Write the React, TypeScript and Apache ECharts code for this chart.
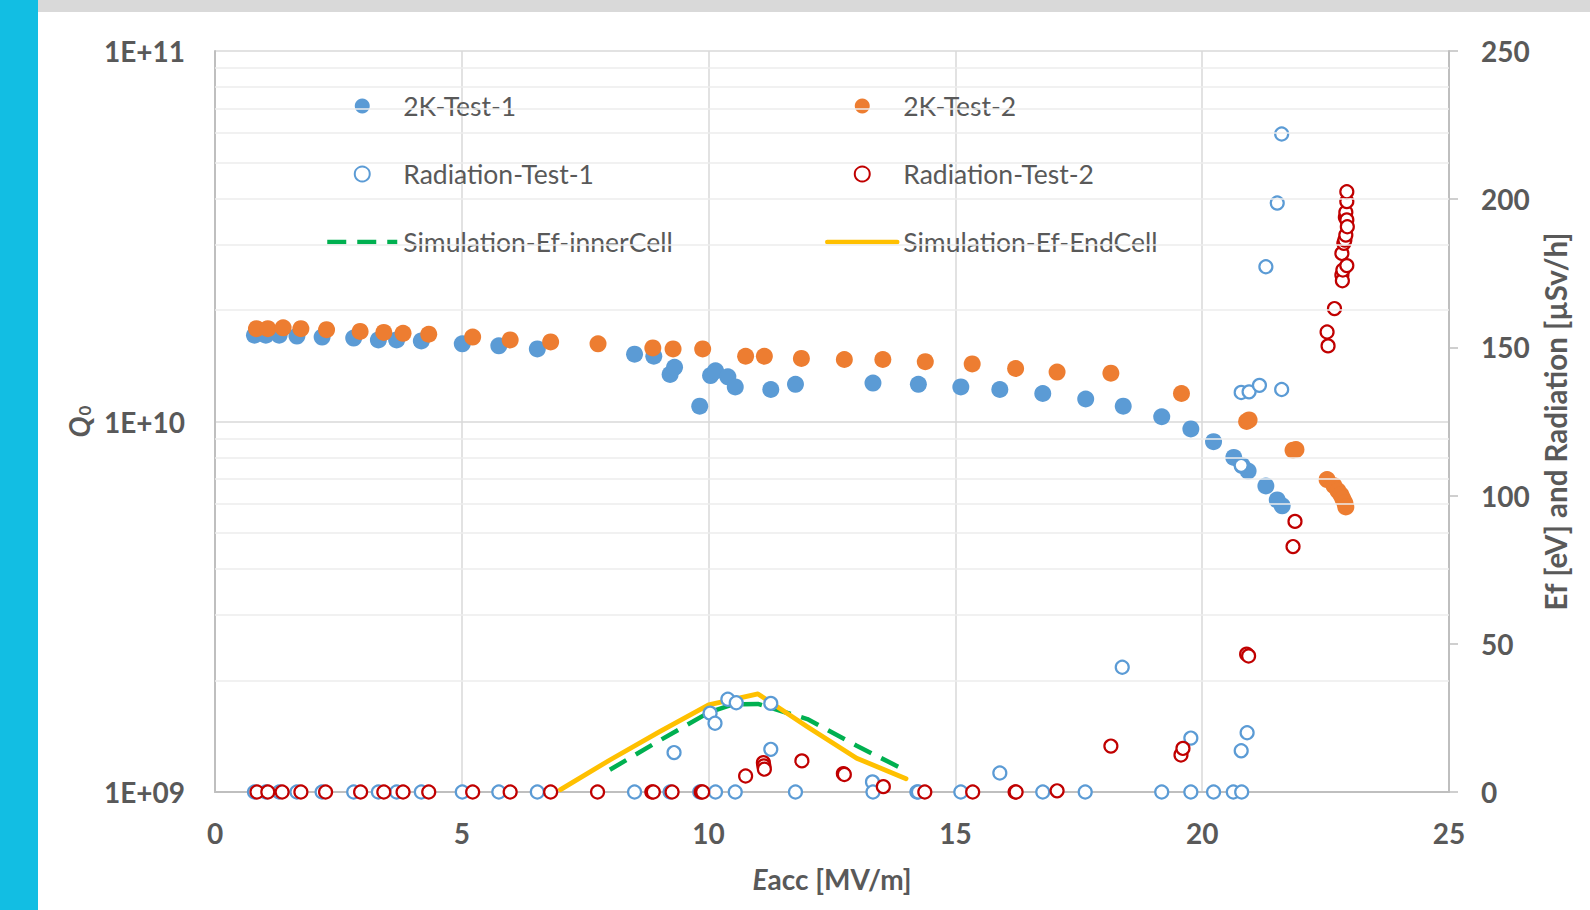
import React, { useEffect, useRef } from "react";
import * as echarts from "echarts";

// ---- 2K-Test-1 (Q0, left log axis)
const eacc1 = [0.8, 1.03, 1.3, 1.66, 2.17, 2.81, 3.31, 3.68, 4.18, 5.01, 5.75, 6.53, 8.5, 8.89, 9.22, 9.31, 9.82, 10.04, 10.14, 10.39, 10.54, 11.26, 11.76, 13.33, 14.25, 15.11, 15.9, 16.77, 17.64, 18.4, 19.18, 19.77, 20.23, 20.64, 20.81, 20.93, 21.29, 21.52, 21.62];
const q1 = [1.71e10, 1.71e10, 1.71e10, 1.7e10, 1.69e10, 1.68e10, 1.66e10, 1.66e10, 1.65e10, 1.62e10, 1.6e10, 1.57e10, 1.52e10, 1.5e10, 1.34e10, 1.4e10, 1.1e10, 1.33e10, 1.37e10, 1.32e10, 1.24e10, 1.22e10, 1.26e10, 1.27e10, 1.26e10, 1.24e10, 1.22e10, 1.19e10, 1.15e10, 1.1e10, 1.03e10, 9.55e9, 8.82e9, 8.0e9, 7.6e9, 7.35e9, 6.7e9, 6.14e9, 5.92e9];

// ---- 2K-Test-2 (Q0, left log axis)
const eacc2 = [0.84, 1.07, 1.38, 1.74, 2.26, 2.94, 3.42, 3.81, 4.33, 5.22, 5.98, 6.8, 7.76, 8.87, 9.28, 9.88, 10.75, 11.13, 11.88, 12.75, 13.53, 14.39, 15.34, 16.22, 17.06, 18.15, 19.58, 20.9, 20.95, 21.84, 21.9, 22.53, 22.67, 22.75, 22.81, 22.85, 22.89, 22.91];
const q2 = [1.78e10, 1.78e10, 1.79e10, 1.78e10, 1.77e10, 1.75e10, 1.74e10, 1.73e10, 1.72e10, 1.69e10, 1.66e10, 1.64e10, 1.62e10, 1.58e10, 1.57e10, 1.57e10, 1.5e10, 1.5e10, 1.48e10, 1.47e10, 1.47e10, 1.45e10, 1.43e10, 1.39e10, 1.36e10, 1.35e10, 1.19e10, 1.0e10, 1.01e10, 8.37e9, 8.4e9, 6.97e9, 6.71e9, 6.5e9, 6.34e9, 6.18e9, 6.03e9, 5.88e9];

// ---- Radiation-Test-1 (right axis)
const radX1 = [0.8, 1.03, 1.3, 1.66, 2.17, 2.81, 3.31, 3.68, 4.18, 5.01, 5.75, 6.53, 8.5, 9.22, 9.3, 9.82, 10.03, 10.13, 10.14, 10.39, 10.54, 10.56, 11.26, 11.26, 11.76, 13.32, 13.33, 14.22, 14.25, 15.11, 15.9, 16.77, 17.63, 18.38, 19.18, 19.77, 19.77, 20.23, 20.63, 20.79, 20.8, 20.79, 20.79, 20.91, 20.95, 21.16, 21.29, 21.52, 21.61, 21.61];
const radV1 = [0, 0, 0, 0, 0, 0, 0, 0, 0, 0, 0, 0, 0, 0, 13.3, 0, 26.6, 23.2, 0, 31.3, 0, 30.1, 29.9, 14.4, 0, 3.4, 0, 0, 0, 0, 6.4, 0, 0, 42.1, 0, 18.2, 0, 0, 0, 13.9, 0, 110.2, 134.8, 20.0, 135.0, 137.2, 177.2, 198.7, 135.8, 222.0];

// ---- Radiation-Test-2 (right axis)
const radX2 = [0.85, 1.07, 1.36, 1.74, 2.24, 2.95, 3.42, 3.81, 4.33, 5.22, 5.98, 6.8, 7.75, 8.85, 8.88, 9.26, 9.85, 9.88, 10.75, 11.11, 11.12, 11.13, 11.89, 12.73, 12.75, 13.54, 14.38, 15.35, 16.21, 16.23, 17.06, 18.15, 19.57, 19.61, 20.9, 20.94, 21.84, 21.88, 22.53, 22.55, 22.68, 22.83, 22.83, 22.84, 22.85, 22.87, 22.89, 22.9, 22.91, 22.91, 22.93, 22.93, 22.93, 22.93, 22.94];
const radV2 = [0, 0, 0, 0, 0, 0, 0, 0, 0, 0, 0, 0, 0, 0, 0, 0, 0, 0, 5.4, 9.9, 8.8, 7.7, 10.5, 6.2, 5.9, 1.8, 0, 0, 0, 0, 0.4, 15.5, 12.5, 14.7, 46.5, 45.9, 82.8, 91.3, 155.2, 150.5, 163.1, 174.4, 181.7, 172.5, 176.1, 185.1, 186.2, 193.9, 187.9, 195.6, 177.6, 193.0, 199.2, 202.5, 190.7];

// ---- Simulations (right axis)
const simInnerX = [8, 9, 10, 10.5, 11, 12, 13, 14];
const simInnerEf = [7.5, 17.3, 26.8, 29.6, 29.7, 24.6, 15.6, 7.2];
const simEndX = [7, 8, 9, 10, 11, 12, 13, 14];
const simEndEf = [0.8, 10.8, 20.3, 29.4, 33.1, 22.0, 11.4, 4.5];

// ---- Axis / minor gridline values
const xTicks = [0, 5, 10, 15, 20, 25];
const minorQ = [2e9, 3e9, 4e9, 5e9, 6e9, 7e9, 8e9, 9e9, 2e10, 3e10, 4e10, 5e10, 6e10, 7e10, 8e10, 9e10];

const legendLeft = ["2K-Test-1", "Radiation-Test-1", "Simulation-Ef-innerCell"];
const legendRight = ["2K-Test-2", "Radiation-Test-2", "Simulation-Ef-EndCell"];
const lineSeriesNames = ["Simulation-Ef-innerCell", "Simulation-Ef-EndCell"];

const FONT = "Lato, 'Open Sans', sans-serif";
const GREY = "#595959";

const zip = (xs: number[], ys: number[]) => xs.map((x, i) => [x, ys[i]]);
const legendItems = (names: string[]) =>
  names.map((n) =>
    lineSeriesNames.includes(n)
      ? { name: n, itemStyle: { opacity: 0 }, lineStyle: { width: 4.5 } }
      : { name: n }
  );

export default function App() {
  const ref = useRef<HTMLDivElement>(null);
  useEffect(() => {
    if (!ref.current) return;
    const chart = echarts.init(ref.current, null, { renderer: "svg" });
    const legendCommon = {
      orient: "vertical" as const,
      top: 87,
      itemWidth: 70,
      itemHeight: 15,
      itemGap: 40,
      selectedMode: false,
      textStyle: { fontSize: 26.5, color: GREY, fontFamily: FONT, lineHeight: 28, padding: [0, 0, 0, 1] },
    };
    chart.setOption({
      animation: false,
      backgroundColor: "#ffffff",
      textStyle: { fontFamily: FONT },
      grid: { left: 215, right: 141, top: 51, bottom: 118, containLabel: false },
      legend: [
        { ...legendCommon, left: 320, data: legendItems(legendLeft) },
        { ...legendCommon, left: 820, data: legendItems(legendRight) },
      ],
      graphic: [
        { type: "rect", left: 0, top: 0, shape: { width: 38, height: 910 }, style: { fill: "#12BEE3" }, z: 10 },
        { type: "rect", left: 38, top: 0, shape: { width: 1552, height: 12 }, style: { fill: "#D9D9D9" }, z: 10 },
      ],
      xAxis: {
        type: "value",
        min: xTicks[0],
        max: xTicks[xTicks.length - 1],
        interval: 5,
        name: "{e|E}acc [MV/m]",
        nameLocation: "middle",
        nameGap: 73,
        nameTextStyle: {
          fontSize: 28,
          fontWeight: "bold",
          color: GREY,
          fontFamily: FONT,
          rich: { e: { fontSize: 28, fontWeight: "bold", fontStyle: "italic", color: GREY, fontFamily: FONT } },
        },
        axisLine: { show: true, lineStyle: { color: "#BFBFBF", width: 2 } },
        axisTick: { show: false },
        axisLabel: { fontSize: 28, fontWeight: "bold", color: GREY, fontFamily: FONT, margin: 27 },
        splitLine: { show: true, lineStyle: { color: "#D9D9D9", width: 1.5 } },
      },
      yAxis: [
        {
          type: "log",
          logBase: 10,
          min: 1e9,
          max: 1e11,
          name: "{q|Q}{s|0}",
          nameLocation: "middle",
          nameRotate: 90,
          nameGap: 118,
          nameTextStyle: {
            rich: {
              q: { fontSize: 28, fontWeight: "bold", fontStyle: "italic", color: GREY, fontFamily: FONT },
              s: { fontSize: 17, fontWeight: "bold", color: GREY, fontFamily: FONT, padding: [12, 0, 0, 1] },
            },
          },
          axisLine: { show: true, lineStyle: { color: "#BFBFBF", width: 2 } },
          axisTick: { show: false },
          axisLabel: {
            fontSize: 28,
            fontWeight: "bold",
            color: GREY,
            fontFamily: FONT,
            margin: 30,
            formatter: (v: number) => {
              const e = Math.round(Math.log10(v));
              return "1E+" + (e < 10 ? "0" + e : String(e));
            },
          },
          splitLine: { show: true, lineStyle: { color: "#D9D9D9", width: 1.5 } },
        },
        {
          type: "value",
          position: "right",
          min: 0,
          max: 250,
          interval: 50,
          name: "Ef [eV] and Radiation [µSv/h]",
          nameLocation: "middle",
          nameRotate: 90,
          nameGap: 90,
          nameTextStyle: { fontSize: 29.5, fontWeight: "bold", color: GREY, fontFamily: FONT },
          axisLine: { show: true, lineStyle: { color: "#BFBFBF", width: 2 } },
          axisTick: { show: true, inside: false, length: 9, lineStyle: { color: "#BFBFBF", width: 1.5 } },
          axisLabel: { fontSize: 28, fontWeight: "bold", color: GREY, fontFamily: FONT, margin: 32 },
          splitLine: { show: false },
        },
      ],
      series: [
        {
          name: "minor-grid",
          type: "line",
          yAxisIndex: 0,
          data: [],
          z: 1,
          silent: true,
          markLine: {
            silent: true,
            symbol: "none",
            label: { show: false },
            lineStyle: { color: "#EDEDED", width: 1.5, type: "solid" },
            data: minorQ.map((v) => ({ yAxis: v })),
          },
        },
        {
          name: "Simulation-Ef-innerCell",
          type: "line",
          yAxisIndex: 1,
          data: zip(simInnerX, simInnerEf),
          showSymbol: false,
          symbol: "none",
          itemStyle: { color: "#00B050" },
          lineStyle: { color: "#00B050", width: 4.5, type: [19, 11], cap: "butt" },
          z: 2,
        },
        {
          name: "Simulation-Ef-EndCell",
          type: "line",
          yAxisIndex: 1,
          data: zip(simEndX, simEndEf),
          showSymbol: false,
          symbol: "none",
          itemStyle: { color: "#FFC000" },
          lineStyle: { color: "#FFC000", width: 4.8, cap: "round", join: "round" },
          z: 2,
        },
        {
          name: "2K-Test-1",
          type: "scatter",
          yAxisIndex: 0,
          data: zip(eacc1, q1),
          symbol: "circle",
          symbolSize: 17,
          itemStyle: { color: "#5B9BD5", opacity: 1 },
          z: 3,
        },
        {
          name: "2K-Test-2",
          type: "scatter",
          yAxisIndex: 0,
          data: zip(eacc2, q2),
          symbol: "circle",
          symbolSize: 17,
          itemStyle: { color: "#ED7D31", opacity: 1 },
          z: 3,
        },
        {
          name: "Radiation-Test-1",
          type: "scatter",
          yAxisIndex: 1,
          data: zip(radX1, radV1),
          symbol: "circle",
          symbolSize: 13,
          itemStyle: { color: "#FFFFFF", borderColor: "#5B9BD5", borderWidth: 2.2, opacity: 1 },
          z: 4,
        },
        {
          name: "Radiation-Test-2",
          type: "scatter",
          yAxisIndex: 1,
          data: zip(radX2, radV2),
          symbol: "circle",
          symbolSize: 13,
          itemStyle: { color: "#FFFFFF", borderColor: "#C00000", borderWidth: 2.2, opacity: 1 },
          z: 4,
        },
      ],
    });
    return () => chart.dispose();
  }, []);
  return (
    <div
      ref={ref}
      style={{ position: "fixed", left: 0, top: 0, width: 1590, height: 910, background: "#fff" }}
    />
  );
}
